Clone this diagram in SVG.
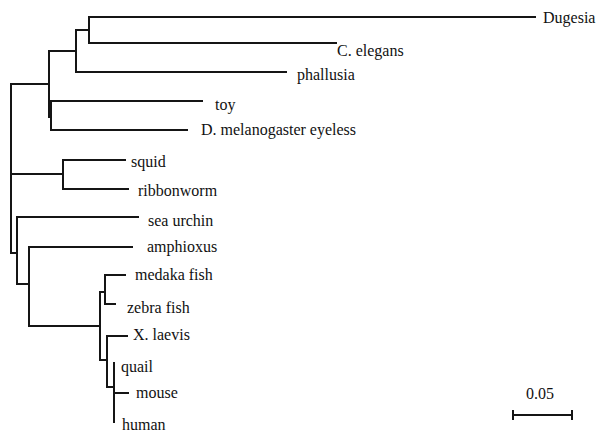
<svg xmlns="http://www.w3.org/2000/svg" width="597" height="434" viewBox="0 0 597 434">
<style>
.e{stroke:#151515;stroke-width:2;fill:none;stroke-linecap:square}
text{font-family:"Liberation Serif","Times New Roman",serif;font-size:16px;fill:#111}
</style>
<rect width="597" height="434" fill="#fff"/>
<g id="connectors">
<path class="e" d="M89 17V43M76 30H89M76 30V72M49 51H76M51 101V130M49 116H51M49 51V117M11 84H49"/>
<path class="e" d="M11 84V253M11 174H63M63 160V189M11 253H17M17 217V284M17 284H29M29 247V326M29 326H100M100 292V360M100 292H105M105 275V304M100 360H107M107 336V387M107 387H114M114 363V422"/>
</g>
<g id="Dugesia"><path class="e" d="M89 17H535"/><text x="543" y="23">Dugesia</text></g>
<g id="C_elegans"><path class="e" d="M89 43H336"/><text x="337" y="56">C. elegans</text></g>
<g id="phallusia"><path class="e" d="M76 72H286"/><text x="297" y="80">phallusia</text></g>
<g id="toy"><path class="e" d="M51 101H202"/><text x="215" y="110">toy</text></g>
<g id="D_melanogaster"><path class="e" d="M51 130H187"/><text x="201" y="135">D. melanogaster eyeless</text></g>
<g id="squid"><path class="e" d="M63 160H125"/><text x="131" y="167">squid</text></g>
<g id="ribbonworm"><path class="e" d="M63 189H128"/><text x="138" y="196">ribbonworm</text></g>
<g id="sea_urchin"><path class="e" d="M17 217H138"/><text x="148" y="226">sea urchin</text></g>
<g id="amphioxus"><path class="e" d="M29 247H132"/><text x="147" y="252">amphioxus</text></g>
<g id="medaka"><path class="e" d="M105 275H125"/><text x="135" y="280">medaka fish</text></g>
<g id="zebra"><path class="e" d="M105 304H115"/><text x="127" y="313">zebra fish</text></g>
<g id="X_laevis"><path class="e" d="M107 336H127"/><text x="133" y="340">X. laevis</text></g>
<g id="quail"><text x="121" y="372">quail</text></g>
<g id="mouse"><path class="e" d="M114 393H128"/><text x="136" y="398">mouse</text></g>
<g id="human"><text x="122" y="430">human</text></g>
<g id="scale"><path class="e" d="M513 415H572M513 411V419M572 411V419"/><text x="540" y="399" text-anchor="middle">0.05</text></g>
</svg>
